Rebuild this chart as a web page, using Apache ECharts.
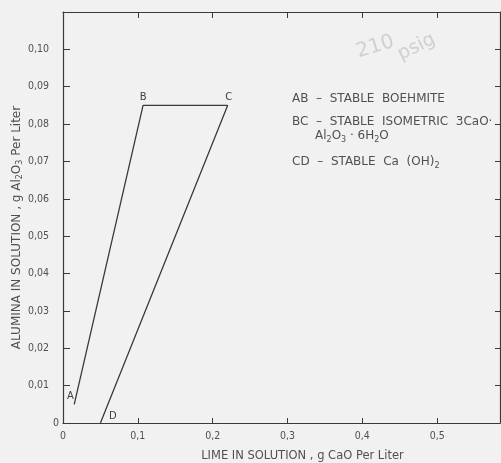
<!DOCTYPE html>
<html>
<head>
<meta charset="utf-8">
<script src="https://cdn.jsdelivr.net/npm/echarts@6/dist/echarts.min.js"></script>
<style>
  html, body { margin: 0; padding: 0; background: #f1f1f1; }
  #chart { width: 501px; height: 463px; }
</style>
</head>
<body>
<div id="chart"></div>
<script>
// Phase boundary path A -> B -> C -> D (lime g CaO/L, alumina g Al2O3/L)
const pointNames = ['A', 'B', 'C', 'D'];
const limeValues = [0.015, 0.107, 0.22, 0.05];
const aluminaValues = [0.005, 0.085, 0.085, 0];

const xTickValues = [0, 0.1, 0.2, 0.3, 0.4, 0.5];
const xTickLabels = ['0', '0,1', '0,2', '0,3', '0,4', '0,5'];
const yTickValues = [0, 0.01, 0.02, 0.03, 0.04, 0.05, 0.06, 0.07, 0.08, 0.09, 0.10];
const yTickLabels = ['0', '0,01', '0,02', '0,03', '0,04', '0,05', '0,06', '0,07', '0,08', '0,09', '0,10'];

const INK = '#3a3a3a';
const TEXT = '#505050';
const FONT = '"DejaVu Sans", sans-serif';
const NARROW = '"DejaVu Sans Condensed", "Liberation Sans Narrow", "DejaVu Sans", sans-serif';

// Where each point letter sits relative to its vertex
const labelPlacement = {
  A: { position: 'left', offset: [3, -8] },
  B: { position: 'top', offset: [0, 0] },
  C: { position: 'top', offset: [1, 0] },
  D: { position: 'right', offset: [5, -7] }
};

function labelFor(values, labels, v) {
  for (let i = 0; i < values.length; i++) {
    if (Math.abs(values[i] - v) < 1e-9) return labels[i];
  }
  return '';
}

const seriesData = pointNames.map((n, i) => ({
  name: n,
  value: [limeValues[i], aluminaValues[i]],
  label: Object.assign({ show: true, formatter: n }, labelPlacement[n])
}));

const baseAxisLine = { show: true, onZero: false, lineStyle: { color: INK, width: 1.2 } };

const chart = echarts.init(document.getElementById('chart'), null, { renderer: 'canvas' });
chart.setOption({
  backgroundColor: '#f1f1f1',
  animation: false,
  grid: { left: 63, top: 12, right: 1, bottom: 40, outerBoundsMode: 'none', containLabel: false },
  xAxis: [{
    type: 'value', min: 0, max: 0.584, interval: 0.1,
    axisLine: baseAxisLine,
    axisTick: { inside: true, length: 5, lineStyle: { color: INK } },
    splitLine: { show: false },
    axisLabel: {
      color: TEXT, fontFamily: NARROW, fontSize: 10.5, margin: 8, showMaxLabel: false,
      formatter: v => labelFor(xTickValues, xTickLabels, v)
    },
    name: 'LIME IN SOLUTION , g CaO Per Liter',
    nameLocation: 'middle', nameGap: 27, nameMoveOverlap: false,
    nameTextStyle: { color: TEXT, fontFamily: FONT, fontSize: 11.5, padding: [0, 0, 0, 42] }
  }, {
    type: 'value', position: 'top', min: 0, max: 0.584, interval: 0.1,
    axisLine: baseAxisLine,
    axisTick: { inside: true, length: 6, lineStyle: { color: INK } },
    axisLabel: { show: false }, splitLine: { show: false }
  }],
  yAxis: [{
    type: 'value', min: 0, max: 0.11, interval: 0.01,
    axisLine: baseAxisLine,
    axisTick: { inside: true, length: 7, lineStyle: { color: INK } },
    splitLine: { show: false },
    axisLabel: {
      color: TEXT, fontFamily: NARROW, fontSize: 10.5, margin: 4, showMaxLabel: false,
      formatter: v => {
        const text = labelFor(yTickValues, yTickLabels, v);
        return v === 0 ? '{z|' + text + '}' : '{n|' + text + '}';
      },
      rich: {
        z: { color: TEXT, fontFamily: NARROW, fontSize: 10.5 },
        n: { color: TEXT, fontFamily: NARROW, fontSize: 10.5, padding: [0, 10, 0, 0] }
      }
    },
    name: '{t|ALUMINA IN SOLUTION , g Al}{s|2}{t|O}{s|3}{t| Per Liter}',
    nameLocation: 'middle', nameGap: 39, nameMoveOverlap: false,
    nameTextStyle: {
      color: TEXT, fontFamily: FONT, fontSize: 12, padding: [0, 20, 0, 0],
      rich: {
        t: { color: TEXT, fontFamily: FONT, fontSize: 12 },
        s: { color: TEXT, fontFamily: FONT, fontSize: 8, padding: [7, 0, 0, 0] }
      }
    }
  }, {
    type: 'value', position: 'right', min: 0, max: 0.11, interval: 0.01,
    axisLine: baseAxisLine,
    axisTick: { inside: true, length: 5, lineStyle: { color: INK } },
    axisLabel: { show: false }, splitLine: { show: false }
  }],
  series: [{
    type: 'line',
    data: seriesData,
    showSymbol: true,
    symbol: 'circle',
    symbolSize: 1,
    itemStyle: { color: 'rgba(0,0,0,0)' },
    lineStyle: { color: INK, width: 1.3 },
    label: { color: '#404040', fontFamily: FONT, fontSize: 10, distance: 3 },
    emphasis: { disabled: true }
  }],
  graphic: [
    {
      type: 'text', left: 292, top: 93,
      style: { text: 'AB  –  STABLE  BOEHMITE', fill: TEXT, font: '12px ' + FONT }
    },
    {
      type: 'text', left: 292, top: 116,
      style: { text: 'BC  –  STABLE  ISOMETRIC  3CaO·', fill: TEXT, font: '12px ' + FONT }
    },
    {
      type: 'text', left: 315, top: 130,
      style: {
        text: '{t|Al}{s|2}{t|O}{s|3}{t| · 6H}{s|2}{t|O}',
        rich: {
          t: { fill: TEXT, fontFamily: FONT, fontSize: 12 },
          s: { fill: TEXT, fontFamily: FONT, fontSize: 8, padding: [8, 0, 0, 0] }
        }
      }
    },
    {
      type: 'text', left: 292, top: 156,
      style: {
        text: '{t|CD  –  STABLE  Ca  (OH)}{s|2}',
        rich: {
          t: { fill: TEXT, fontFamily: FONT, fontSize: 12 },
          s: { fill: TEXT, fontFamily: FONT, fontSize: 8, padding: [8, 0, 0, 0] }
        }
      }
    },
    // Pencilled note in the upper margin
    {
      type: 'text', x: 360, y: 62, rotation: 0.3,
      style: { text: '210', fill: '#d0d0d0', font: '20px "DejaVu Sans", sans-serif', textVerticalAlign: 'bottom' }
    },
    {
      type: 'text', x: 403, y: 64, rotation: 0.45,
      style: { text: 'psig', fill: '#d0d0d0', font: '19px "DejaVu Sans", sans-serif', textVerticalAlign: 'bottom' }
    }
  ]
});
</script>
</body>
</html>
